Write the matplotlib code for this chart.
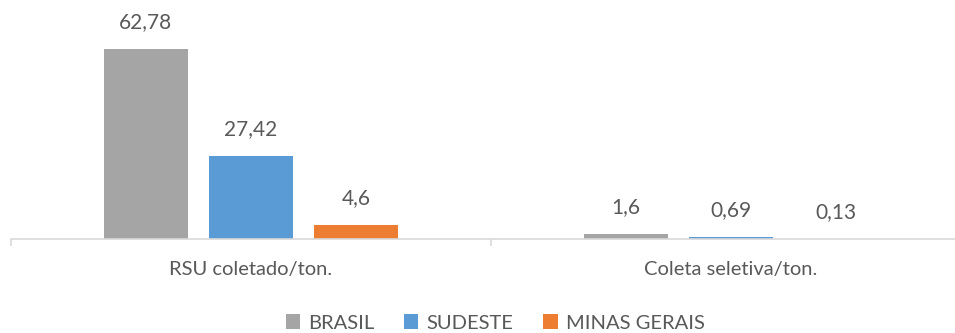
import numpy as np
import matplotlib.pyplot as plt

plt.rcParams['font.family'] = ['Lato', 'DejaVu Sans']

categories = ['RSU coletado/ton.', 'Coleta seletiva/ton.']
series = ['BRASIL', 'SUDESTE', 'MINAS GERAIS']
brasil = [62.78, 1.6]
sudeste = [27.42, 0.69]
minas = [4.6, 0.13]
colors = ['#A5A5A5', '#5B9BD5', '#ED7D31']
text_color = '#595959'

W, H = 955, 333
fig = plt.figure(figsize=(W / 100, H / 100), dpi=100)
# axes spans one full category slot on each side; right part runs off the canvas
ax = fig.add_axes([11 / W, 94 / H, 960 / W, 212 / H])

x = np.arange(len(categories))
width = 0.175
step = 0.219
for i, (name, vals) in enumerate(zip(series, [brasil, sudeste, minas])):
    bars = ax.bar(x + (i - 1) * step, vals, width, color=colors[i], label=name)
    for b, v in zip(bars, vals):
        ax.annotate(f'{v:g}'.replace('.', ','),
                    (b.get_x() + b.get_width() / 2, b.get_height()),
                    xytext=(0, 12), textcoords='offset points',
                    ha='center', va='bottom', fontsize=15, color=text_color)

ax.set_xlim(-0.5, 1.5)
ax.set_ylim(0, 70)
for s in ['top', 'right', 'left']:
    ax.spines[s].set_visible(False)
ax.spines['bottom'].set_color('#D9D9D9')
ax.spines['bottom'].set_linewidth(1.2)
ax.set_yticks([])

ax.set_xticks(x)
ax.set_xticklabels(categories, fontsize=14.5, color=text_color)
ax.tick_params(axis='x', which='major', length=0, pad=16)
ax.set_xticks([-0.5, 0.5, 1.5], minor=True)
ax.tick_params(axis='x', which='minor', length=5, color='#D9D9D9', width=1.2)

fig.legend(loc='center', bbox_to_anchor=(495 / W, 1 - 323 / H), ncol=3,
           frameon=False, fontsize=14.5, handlelength=0.7, handleheight=0.7,
           handletextpad=0.4, columnspacing=1.5, labelcolor=text_color,
           borderpad=0)

fig.savefig('out.png', dpi=100)
